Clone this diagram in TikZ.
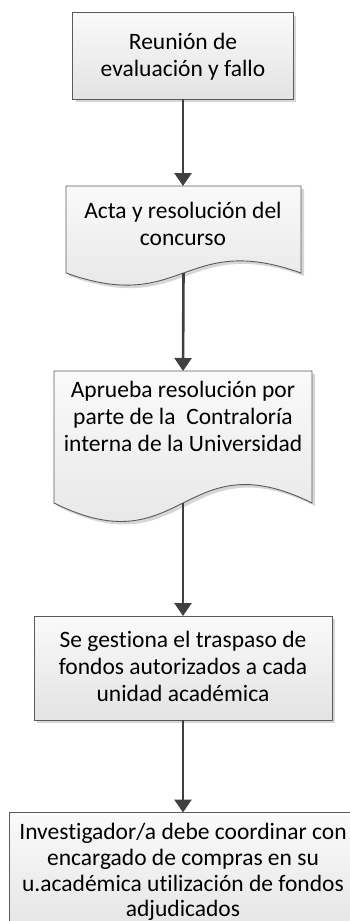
\documentclass[tikz,border=0pt]{standalone}
\usepackage{fontspec}
\setmainfont{Carlito}[Ligatures=NoCommon]
\usetikzlibrary{arrows.meta}
\definecolor{edgec}{HTML}{5A5A5A}
\definecolor{arrowc}{HTML}{404040}
\definecolor{shadowc}{HTML}{D6D6D6}
\tikzset{
  boxfill/.style={top color=white!98!black, bottom color=white!89!black, draw=edgec, line width=0.9pt},
  shadowfill/.style={fill=shadowc},
  txt/.style={font=\fontsize{23.5}{27}\selectfont, align=center, inner sep=0pt},
  flow/.style={draw=arrowc, line width=2.6pt, -{Triangle[width=17pt,length=13pt]}},
}
\begin{document}
\begin{tikzpicture}[x=1pt,y=-1pt]
\useasboundingbox (0,0) rectangle (350,921);
% box 1
\fill[shadowfill] (75.5,15.5) rectangle (296,102);
\path[boxfill] (72.5,12.5) rectangle (293,99);
\node[txt] (t1) at (183,57) {Reunión de\\evaluación y fallo};
\coordinate (b1) at (183,99);
% box 2 (document)
\fill[shadowfill] (69,189) -- (304,189) -- (304,276) .. controls (186,234) and (186,318) .. (69,276) -- cycle;
\path[boxfill] (66,186) -- (301,186) -- (301,273) .. controls (183.5,231) and (183.5,315) .. (66,273) -- cycle;
\node[txt] (t2) at (183,224) {Acta y resolución del\\concurso};
\coordinate (a2) at (183,186);
\coordinate (b2) at (183.5,273);
% box 3 (document)
\fill[shadowfill] (57,374) -- (315,374) -- (315,506) .. controls (186,442) and (186,570) .. (57,506) -- cycle;
\path[boxfill] (54,371) -- (312,371) -- (312,503) .. controls (183,439) and (183,567) .. (54,503) -- cycle;
\node[txt] (t3) at (183,416) {Aprueba resolución por\\parte de la~ Contraloría\\interna de la Universidad};
\coordinate (a3) at (183,371);
\coordinate (b3) at (183,503);
% box 4
\fill[shadowfill] (37,619) rectangle (335,723);
\path[boxfill] (34,616) rectangle (332,720);
\node[txt] (t4) at (183,666) {Se gestiona el traspaso de\\fondos autorizados a cada\\unidad académica};
\coordinate (a4) at (183,616);
\coordinate (b4) at (183,720);
% box 5
\fill[shadowfill] (12,815.5) rectangle (360,945);
\path[boxfill] (9,812.5) rectangle (357,942);
\node[txt, font=\fontsize{23.5}{25.8}\selectfont] (t5) at (183,872) {Investigador/a debe coordinar con\\encargado de compras en su\\u.académica utilización de fondos\\adjudicados};
\coordinate (a5) at (183,812.5);
% connectors
\draw[flow] (b1) -- (a2);
\draw[flow] (b2) -- (a3);
\draw[flow] (b3) -- (a4);
\draw[flow] (b4) -- (a5);
\end{tikzpicture}
\end{document}
